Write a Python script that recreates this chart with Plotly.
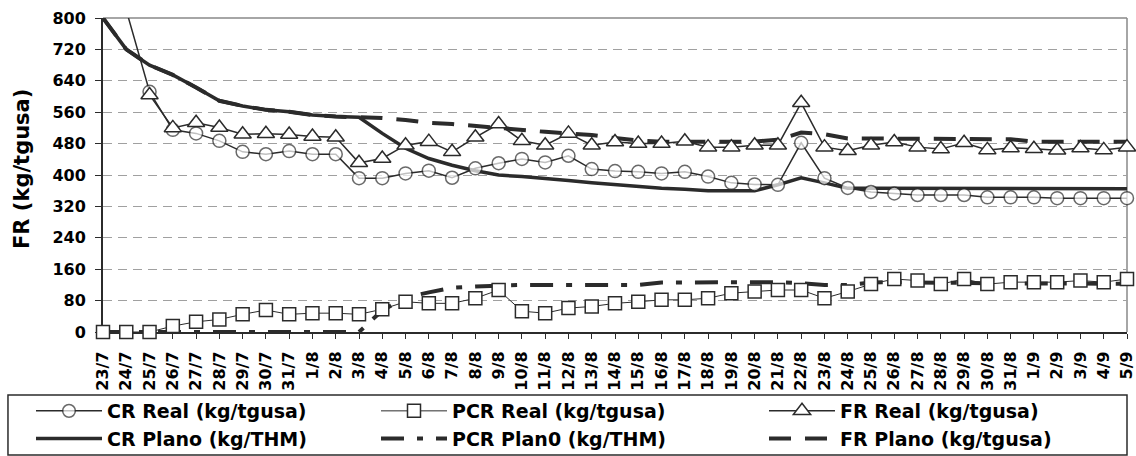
import plotly.graph_objects as go

categories = ["23/7", "24/7", "25/7", "26/7", "27/7", "28/7", "29/7", "30/7", "31/7",
              "1/8", "2/8", "3/8", "4/8", "5/8", "6/8", "7/8", "8/8", "9/8", "10/8",
              "11/8", "12/8", "13/8", "14/8", "15/8", "16/8", "17/8", "18/8", "19/8",
              "20/8", "21/8", "22/8", "23/8", "24/8", "25/8", "26/8", "27/8", "28/8",
              "29/8", "30/8", "31/8", "1/9", "2/9", "3/9", "4/9", "5/9"]

cr_real = [None, 820, 612, 515, 506, 487, 459, 453, 461,
           453, 453, 392, 392, 404, 411, 393, 417, 430, 441,
           432, 449, 415, 410, 408, 404, 408, 396, 380,
           376, 375, 482, 392, 367, 357, 353, 349, 349,
           349, 343, 343, 343, 341, 341, 341, 341]

pcr_real = [0, 0, 0, 15, 26, 32, 45, 56, 45,
            48, 48, 45, 58, 77, 73, 73, 86, 107, 53,
            48, 61, 65, 73, 77, 82, 82, 86, 99,
            103, 107, 107, 86, 103, 122, 135, 131, 122,
            135, 122, 127, 127, 127, 131, 127, 135]

fr_real = [None, None, 604, 520, 533, 521, 504, 505, 503,
           498, 496, 431, 442, 476, 485, 459, 496, 530, 487,
           476, 506, 476, 484, 480, 480, 486, 471, 471,
           476, 476, 584, 471, 462, 476, 484, 471, 466,
           482, 464, 469, 467, 463, 469, 464, 471]

cr_plan = [800, 720, 680, 655, 623, 589, 576, 566, 561,
           553, 549, 547, 506, 468, 442, 425, 411, 400, 396,
           392, 386, 380, 375, 370, 366, 364, 360, 360,
           360, 375, 393, 380, 366, 366, 366, 366, 366,
           365, 365, 365, 365, 365, 365, 365, 365]

pcr_plan = [0, 0, 0, 0, 0, 0, 0, 0, 0,
            0, 0, 0, 55, 88, 101, 113, 116, 119, 120,
            120, 120, 120, 120, 120, 126, 126, 126, 126,
            127, 127, 124, 120, 120, 126, 127, 127, 125,
            125, 124, 124, 124, 123, 123, 123, 123]

fr_plan = [800, 720, 680, 655, 623, 589, 576, 566, 561,
           553, 549, 547, 545, 540, 533, 530, 525, 519, 513,
           510, 506, 502, 494, 488, 485, 485, 485, 485,
           485, 490, 508, 504, 493, 493, 493, 493, 493,
           493, 493, 491, 485, 485, 485, 485, 485]

names = ["CR Real (kg/tgusa)", "PCR Real (kg/tgusa)", "FR Real (kg/tgusa)",
         "CR Plano (kg/THM)", "PCR Plan0 (kg/THM)", "FR Plano (kg/tgusa)"]
y_title = "FR (kg/tgusa)"

INK = "#2b2b2b"
FONT = "DejaVu Sans"
W, H = 1136, 456
ITEMW = 66

fig = go.Figure()

fig.add_trace(go.Scatter(x=categories, y=cr_plan, name=names[3], mode="lines",
                         line=dict(color=INK, width=3.5),
                         legend="legend", legendrank=2))
fig.add_trace(go.Scatter(x=categories, y=pcr_plan, name=names[4], mode="lines",
                         line=dict(color=INK, width=4, dash="23px,13px,6px,13px"),
                         legend="legend2", legendrank=2))
fig.add_trace(go.Scatter(x=categories, y=fr_plan, name=names[5], mode="lines",
                         line=dict(color=INK, width=4, dash="22px,14px"),
                         legend="legend3", legendrank=2))

fig.add_trace(go.Scatter(x=categories, y=pcr_real, name=names[1], mode="lines+markers",
                         line=dict(color=INK, width=1),
                         marker=dict(symbol="square", size=13, color="white",
                                     line=dict(color=INK, width=1.5)),
                         cliponaxis=False, legend="legend2", legendrank=1))
cr_sizes = [0 if (v is not None and v > 800) else 13 for v in cr_real]
fig.add_trace(go.Scatter(x=categories, y=cr_real, name=names[0], mode="lines+markers",
                         line=dict(color=INK, width=1.5),
                         marker=dict(symbol="circle", size=cr_sizes, color="white",
                                     line=dict(color=INK, width=1.5)),
                         cliponaxis=False, legend="legend", legendrank=1))
fig.add_trace(go.Scatter(x=categories, y=fr_real, name=names[2], mode="lines+markers",
                         line=dict(color=INK, width=1.5),
                         marker=dict(symbol="triangle-up", size=15, color="white",
                                     line=dict(color=INK, width=1.5)),
                         cliponaxis=False, legend="legend3", legendrank=1))

leg_font = dict(family=FONT, size=19, color="black", weight="bold")


def leg(text_left_px, top_px):
    return dict(orientation="v", xref="container", yref="container",
                x=(text_left_px - ITEMW - 10) / W, xanchor="left",
                y=1 - top_px / H, yanchor="top",
                font=leg_font, bgcolor="rgba(0,0,0,0)", borderwidth=0,
                tracegroupgap=0, itemwidth=ITEMW)


fig.update_layout(
    width=W, height=H,
    margin=dict(l=103, r=9, t=18, b=124, autoexpand=False),
    paper_bgcolor="white", plot_bgcolor="white",
    font=dict(family=FONT, color="black", weight="bold"),
    showlegend=True,
    legend=leg(107, 392),
    legend2=leg(452, 392),
    legend3=leg(840, 392),
    xaxis=dict(type="category", range=[0, 44], showgrid=False,
               showline=True, linecolor=INK, linewidth=2,
               ticks="outside", ticklen=5, tickcolor=INK, tickwidth=1,
               tickangle=-90, ticklabelstandoff=6,
               tickfont=dict(family=FONT, size=16, color="black", weight="bold"),
               layer="below traces", fixedrange=True),
    yaxis=dict(range=[0, 800], dtick=80, tick0=0, showgrid=True,
               gridcolor="#a0a0a0", gridwidth=1, griddash="9px,6px",
               showline=True, linecolor=INK, linewidth=2, zeroline=False,
               ticks="outside", ticklen=6, tickcolor=INK, tickwidth=1,
               tickfont=dict(family=FONT, size=16, color="black", weight="bold"),
               ticklabelstandoff=6,
               layer="below traces", fixedrange=True),
    annotations=[
        dict(text=y_title, textangle=-90, xref="paper", yref="paper",
             x=(22 - 103) / 1024, y=(332 - 169) / 314, xanchor="center", yanchor="middle",
             showarrow=False,
             font=dict(family=FONT, size=21, color="black", weight="bold")),
    ],
    shapes=[
        dict(type="line", xref="x domain", yref="y domain", x0=0, x1=1, y0=1, y1=1,
             line=dict(color="#888888", width=1.5), layer="below"),
        dict(type="line", xref="x domain", yref="y domain", x0=1, x1=1, y0=0, y1=1,
             line=dict(color="#888888", width=1.5), layer="below"),
        dict(type="rect", xref="paper", yref="paper", x0=-0.0928, x1=1.0,
             y0=-0.392, y1=-0.2006, line=dict(color=INK, width=1.5),
             fillcolor="rgba(0,0,0,0)"),
    ],
)

fig.write_html("out.html")
